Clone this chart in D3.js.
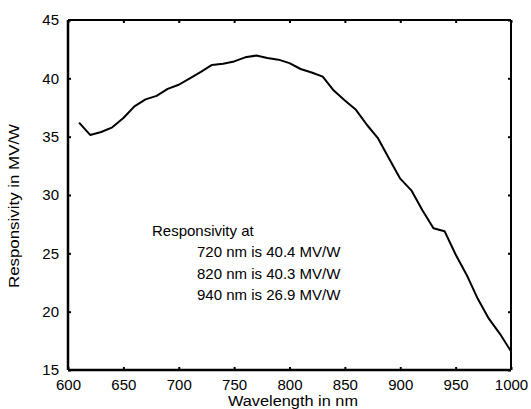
<!DOCTYPE html>
<html>
<head>
<meta charset="utf-8">
<script src="https://cdn.jsdelivr.net/npm/d3@7"></script>
<style>
  body { margin: 0; background: #fff; }
  svg { display: block; font-family: "Liberation Sans", Arial, Helvetica, sans-serif; }
</style>
</head>
<body>
<svg id="chart" width="531" height="409"></svg>
<script>
// Data
const wavelength = [610, 620, 630, 640, 650, 660, 670, 680, 690, 700, 710, 720, 730, 740, 750, 760, 770, 780, 790, 800, 810, 820, 830, 840, 850, 860, 870, 880, 890, 900, 910, 920, 930, 940, 950, 960, 970, 980, 990, 1000];
const responsivity = [36.2, 35.15, 35.4, 35.8, 36.6, 37.6, 38.2, 38.5, 39.1, 39.45, 40.0, 40.55, 41.15, 41.25, 41.45, 41.8, 41.95, 41.75, 41.6, 41.3, 40.8, 40.5, 40.15, 38.95, 38.1, 37.3, 36.0, 34.85, 33.1, 31.4, 30.4, 28.7, 27.15, 26.9, 24.9, 23.15, 21.1, 19.4, 18.1, 16.6];
const xTicks = [600, 650, 700, 750, 800, 850, 900, 950, 1000];
const yTicks = [15, 20, 25, 30, 35, 40, 45];
const noteLines = ["Responsivity at", "720 nm is 40.4 MV/W", "820 nm is 40.3 MV/W", "940 nm is 26.9 MV/W"];
const xTitle = "Wavelength in nm";
const yTitle = "Responsivity in MV/W";

const svg = d3.select("#chart");
const L = 68, R = 511, T = 20, B = 370;

const x = d3.scaleLinear().domain([600, 1000]).range([L, R]);
const y = d3.scaleLinear().domain([15, 45]).range([B, T]);

function styleAxis(g, showLabels) {
  g.select(".domain").remove();
  g.selectAll(".tick line").attr("stroke", "#000").attr("stroke-width", 2);
  g.selectAll(".tick text").attr("fill", "#000").style("font-size", "15px");
  if (!showLabels) g.selectAll(".tick text").remove();
}

// Bottom axis
svg.append("g").attr("transform", `translate(0,${B})`)
  .call(d3.axisBottom(x).tickValues(xTicks).tickSizeInner(-3).tickSizeOuter(0).tickPadding(9).tickFormat(d3.format("d")))
  .call(g => styleAxis(g, true));
// Top axis
svg.append("g").attr("transform", `translate(0,${T})`)
  .call(d3.axisTop(x).tickValues(xTicks).tickSizeInner(-3).tickSizeOuter(0))
  .call(g => styleAxis(g, false));
// Left axis
svg.append("g").attr("transform", `translate(${L},0)`)
  .call(d3.axisLeft(y).tickValues(yTicks).tickSizeInner(-3).tickSizeOuter(0).tickPadding(9).tickFormat(d3.format("d")))
  .call(g => styleAxis(g, true));
// Right axis
svg.append("g").attr("transform", `translate(${R},0)`)
  .call(d3.axisRight(y).tickValues(yTicks).tickSizeInner(-3).tickSizeOuter(0))
  .call(g => styleAxis(g, false));

// Frame
const frame = svg.append("g").attr("stroke", "#000").attr("fill", "none");
frame.append("line").attr("x1", x(600)).attr("x2", x(1000)).attr("y1", y(15)).attr("y2", y(15)).attr("stroke-width", 2.5);
frame.append("line").attr("x1", x(600)).attr("x2", x(600)).attr("y1", y(15)).attr("y2", y(45)).attr("stroke-width", 2.5);
frame.append("line").attr("x1", x(600)).attr("x2", x(1000)).attr("y1", y(45)).attr("y2", y(45)).attr("stroke-width", 2);
frame.append("line").attr("x1", x(1000)).attr("x2", x(1000)).attr("y1", y(15)).attr("y2", y(45)).attr("stroke-width", 2);

// Curve
const line = d3.line().x((d, i) => x(wavelength[i])).y(d => y(d));
svg.append("path").datum(responsivity)
  .attr("d", line)
  .attr("fill", "none")
  .attr("stroke", "#000")
  .attr("stroke-width", 2)
  .attr("stroke-linejoin", "round");

// Annotation
const note = svg.append("g").style("font-size", "15px").attr("fill", "#000");
noteLines.forEach((t, i) => {
  note.append("text")
    .attr("x", i === 0 ? 152 : 197)
    .attr("y", 236 + i * 21.4)
    .text(t);
});

// Axis titles
svg.append("text")
  .attr("x", 293).attr("y", 406)
  .attr("text-anchor", "middle")
  .style("font-size", "14px")
  .attr("textLength", 130).attr("lengthAdjust", "spacingAndGlyphs")
  .text(xTitle);

svg.append("text")
  .attr("transform", "translate(19,206) rotate(-90)")
  .attr("text-anchor", "middle")
  .style("font-size", "14px")
  .attr("textLength", 164).attr("lengthAdjust", "spacingAndGlyphs")
  .text(yTitle);
</script>
</body>
</html>
